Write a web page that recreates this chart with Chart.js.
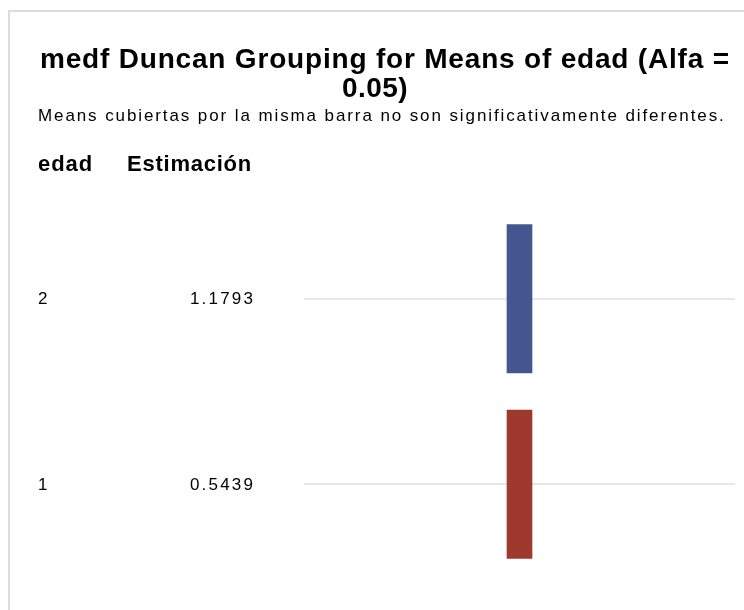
<!DOCTYPE html>
<html>
<head>
<meta charset="utf-8">
<title>Duncan grouping</title>
<script src="https://cdn.jsdelivr.net/npm/chart.js@4"></script>
<style>
  html, body { margin: 0; padding: 0; background: #fff; }
  #wrap { position: relative; width: 744px; height: 610px; overflow: hidden; }
  #frame { position: absolute; left: 8px; top: 10px; right: -4px; bottom: -4px;
           border-top: 2px solid #dcdcdc; border-left: 2px solid #dcdcdc; }
  #c { position: absolute; left: 0; top: 0; }
</style>
</head>
<body>
<div id="wrap"><div id="frame"></div><canvas id="c" width="744" height="610"></canvas></div>
<script>
/* Duncan lines plot: one row per level of edad, one bar per grouping letter. */
var levels     = [2, 1];
var estimates  = [1.1793, 0.5439];
var groupNames = ['A', 'B'];
var groupFrom  = [2, 1];     // lowest level covered by the group
var groupTo    = [2, 1];     // highest level covered by the group
var groupColors = ['#43568f', '#a0392d'];
var titleLines = ['medf Duncan Grouping for Means of edad (Alfa =', '0.05)'];
var subtitle   = 'Means cubiertas por la misma barra no son significativamente diferentes.';
var headers    = ['edad', 'Estimación'];

var BAR_PAD = 0.4;   // bar reaches 0.4 of a row above / below the covered levels
var FONT = '"Liberation Sans", Arial, sans-serif';

// draw text starting at x; if width given, spread/squeeze letter spacing to span it
function fitText(ctx, text, x, y, width) {
  ctx.letterSpacing = '0px';
  var w = ctx.measureText(text).width;
  var sp = width ? (width - w) / text.length : 0;
  ctx.letterSpacing = sp.toFixed(2) + 'px';
  ctx.fillText(text, x, y);
  ctx.letterSpacing = '0px';
}

var textPlugin = {
  id: 'duncanText',
  afterDraw: function (chart) {
    var ctx = chart.ctx;
    var ys = chart.scales.y;
    ctx.save();
    ctx.fillStyle = '#000';
    ctx.textAlign = 'left';
    ctx.textBaseline = 'alphabetic';

    ctx.font = 'bold 28px ' + FONT;
    fitText(ctx, titleLines[0], 40, 68, 690);
    fitText(ctx, titleLines[1], 342, 97, 66);

    ctx.font = '17px ' + FONT;
    fitText(ctx, subtitle, 38, 121, 688);

    ctx.font = 'bold 22px ' + FONT;
    fitText(ctx, headers[0], 38, 171, 55);
    fitText(ctx, headers[1], 127, 171, 125);

    ctx.font = '17px ' + FONT;
    ctx.textBaseline = 'middle';
    levels.forEach(function (lv, i) {
      var py = ys.getPixelForValue(lv) + 1;
      fitText(ctx, String(lv), 38, py, 0);
      fitText(ctx, estimates[i].toFixed(4), 190, py, 65);
    });
    ctx.restore();
  }
};

var datasets = groupNames.map(function (g, i) {
  return {
    label: g,
    data: [[groupFrom[i] - BAR_PAD, groupTo[i] + BAR_PAD]],
    backgroundColor: groupColors[i],
    borderWidth: 0,
    barThickness: 25,
    grouped: false
  };
});

new Chart(document.getElementById('c'), {
  type: 'bar',
  data: { labels: [''], datasets: datasets },
  options: {
    responsive: false,
    animation: false,
    devicePixelRatio: 1,
    layout: { padding: { left: 304, right: 9, top: 206, bottom: 33 } },
    plugins: { legend: { display: false }, tooltip: { enabled: false }, title: { display: false } },
    scales: {
      x: { display: false },
      y: {
        min: 0.5, max: 2.5,
        afterBuildTicks: function (axis) {
          axis.ticks = levels.map(function (v) { return { value: v }; });
        },
        ticks: { display: false },
        border: { display: false },
        grid: { color: '#e6e8e8', lineWidth: 2, drawTicks: false }
      }
    }
  },
  plugins: [textPlugin]
});
</script>
</body>
</html>
